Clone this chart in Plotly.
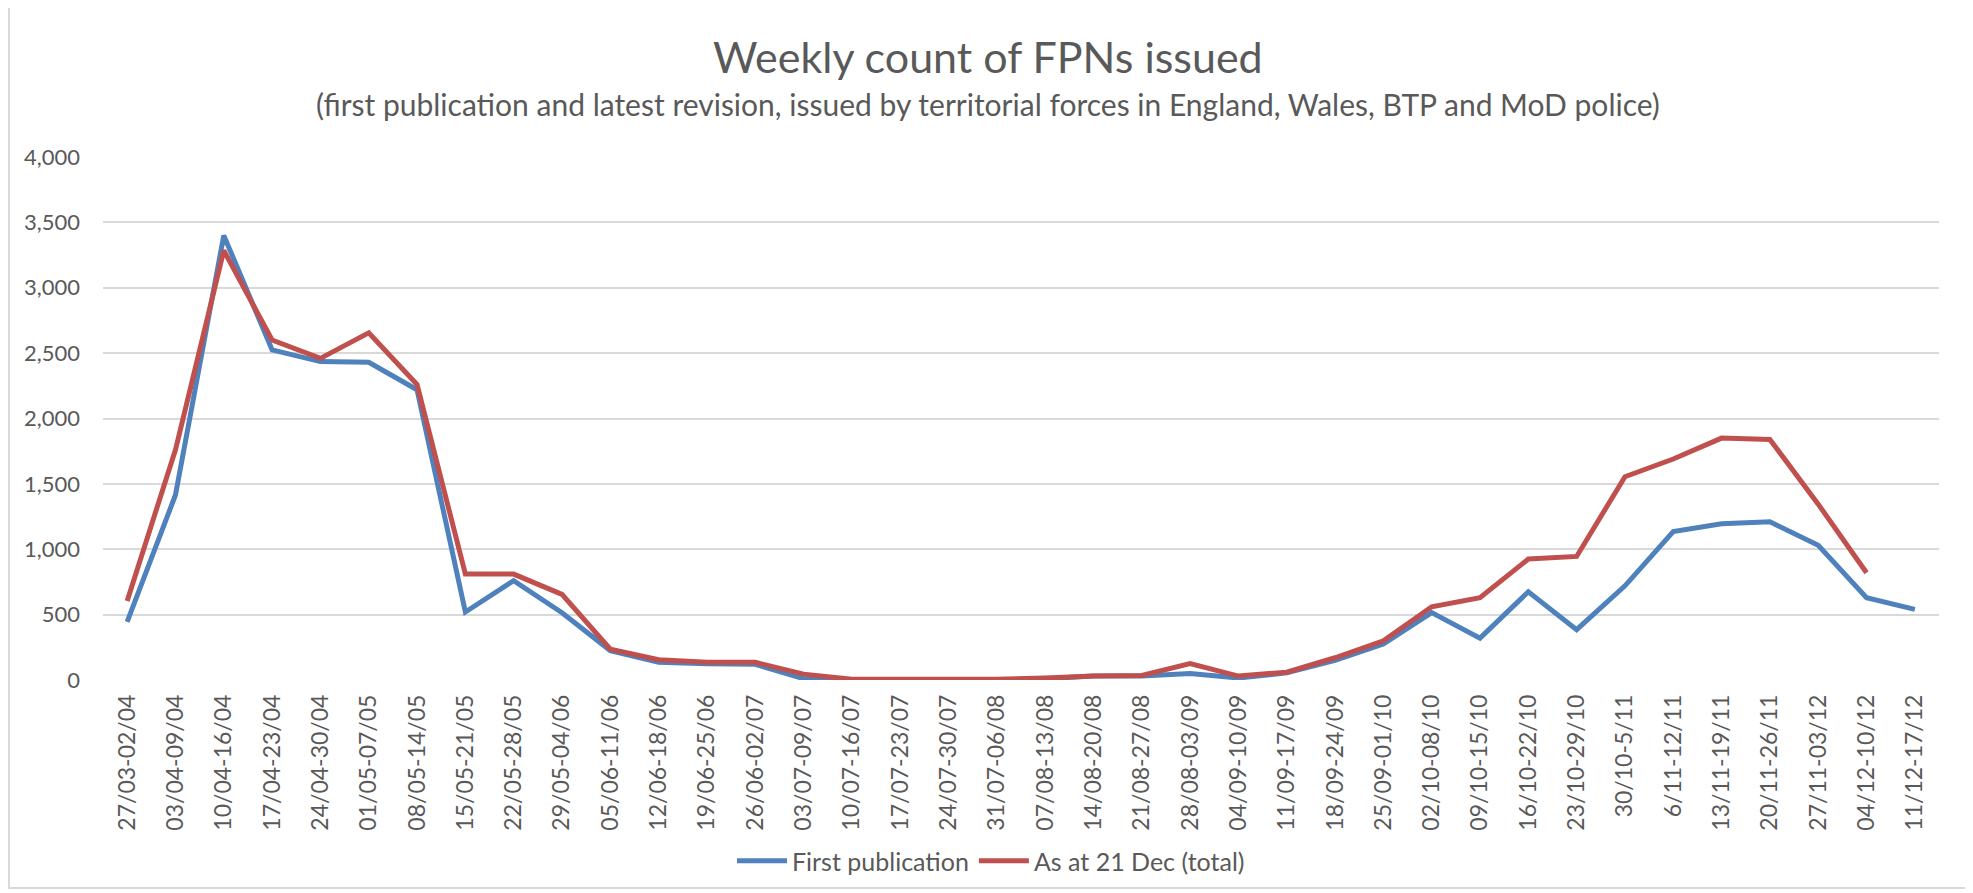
import plotly.graph_objects as go

categories = ["27/03-02/04", "03/04-09/04", "10/04-16/04", "17/04-23/04", "24/04-30/04",
              "01/05-07/05", "08/05-14/05", "15/05-21/05", "22/05-28/05", "29/05-04/06",
              "05/06-11/06", "12/06-18/06", "19/06-25/06", "26/06-02/07", "03/07-09/07",
              "10/07-16/07", "17/07-23/07", "24/07-30/07", "31/07-06/08", "07/08-13/08",
              "14/08-20/08", "21/08-27/08", "28/08-03/09", "04/09-10/09", "11/09-17/09",
              "18/09-24/09", "25/09-01/10", "02/10-08/10", "09/10-15/10", "16/10-22/10",
              "23/10-29/10", "30/10-5/11", "6/11-12/11", "13/11-19/11", "20/11-26/11",
              "27/11-03/12", "04/12-10/12", "11/12-17/12"]

first_publication = [445, 1415, 3400, 2525, 2435, 2430, 2220, 520, 760, 515,
                     225, 135, 125, 120, 10, 0, 0, 0, 0, 10,
                     30, 30, 50, 15, 55, 150, 275, 515, 320, 675,
                     385, 720, 1135, 1195, 1210, 1030, 630, 540]

as_at_21_dec = [605, 1760, 3285, 2600, 2460, 2655, 2260, 810, 810, 655,
                235, 155, 135, 135, 45, 5, 5, 5, 5, 15,
                30, 35, 125, 30, 60, 170, 300, 560, 630, 925,
                945, 1555, 1690, 1850, 1840, 1345, 820, None]

y_ticks = [0, 500, 1000, 1500, 2000, 2500, 3000, 3500, 4000]

FONT = "Lato"
GREY = "#595959"
GRID = "#d9d9d9"

fig = go.Figure()
fig.add_trace(go.Scatter(x=categories, y=first_publication, mode="lines",
                         name="First publication",
                         line=dict(color="#4f81bd", width=5)))
fig.add_trace(go.Scatter(x=categories, y=as_at_21_dec, mode="lines",
                         name="As at 21 Dec (total)",
                         line=dict(color="#c0504d", width=5)))

# page has an 8px body margin; work in page coordinates and convert
OFF = 8
W, H = 1973 - OFF, 893 - OFF
L, T = 103 - OFF, 157 - OFF
R = W - (1939 - OFF)
B = H - (680 - OFF)
pw = W - L - R
ph = H - T - B

def px_x(x):
    return (x - OFF - L) / pw

def px_y(y):
    return (H - B - (y - OFF)) / ph

fig.update_layout(
    template="none",
    width=W, height=H,
    margin=dict(l=L, r=R, t=T, b=B, pad=0, autoexpand=False),
    paper_bgcolor="white", plot_bgcolor="white",
    font=dict(family=FONT, color=GREY, size=21),
    showlegend=True,
    legend=dict(orientation="h", x=px_x(991), xanchor="center",
                y=px_y(861), yanchor="middle", font=dict(size=25, color=GREY),
                itemwidth=50, traceorder="normal", bgcolor="rgba(0,0,0,0)"),
    xaxis=dict(type="category", tickangle=-90, showgrid=False, showline=False,
               zeroline=False, ticks="", tickfont=dict(size=23, color=GREY),
               ticklabelstandoff=9, automargin=False,
               range=[-0.5, len(categories) - 0.5]),
    yaxis=dict(range=[0, 4000], tickvals=y_ticks, tickformat=",", showgrid=True,
               gridcolor=GRID, gridwidth=2, zeroline=False, showline=False,
               ticks="", tickfont=dict(size=22, color=GREY), ticklabelstandoff=22,
               automargin=False),
    shapes=[dict(type="rect", xref="paper", yref="paper",
                 x0=px_x(9), x1=px_x(1968), y0=px_y(888), y1=px_y(6),
                 line=dict(color=GRID, width=2), fillcolor="rgba(0,0,0,0)",
                 layer="below")],
    annotations=[
        dict(text="Weekly count of FPNs issued", xref="paper", yref="paper",
             x=px_x(988), y=px_y(57), xanchor="center", yanchor="middle",
             showarrow=False, font=dict(size=43, color=GREY, family=FONT)),
        dict(text="(first publication and latest revision, issued by territorial forces in England, Wales, BTP and MoD police)",
             xref="paper", yref="paper", x=px_x(988), y=px_y(104),
             xanchor="center", yanchor="middle", showarrow=False,
             font=dict(size=30, color=GREY, family=FONT)),
    ],
)

fig.write_html("out.html")
